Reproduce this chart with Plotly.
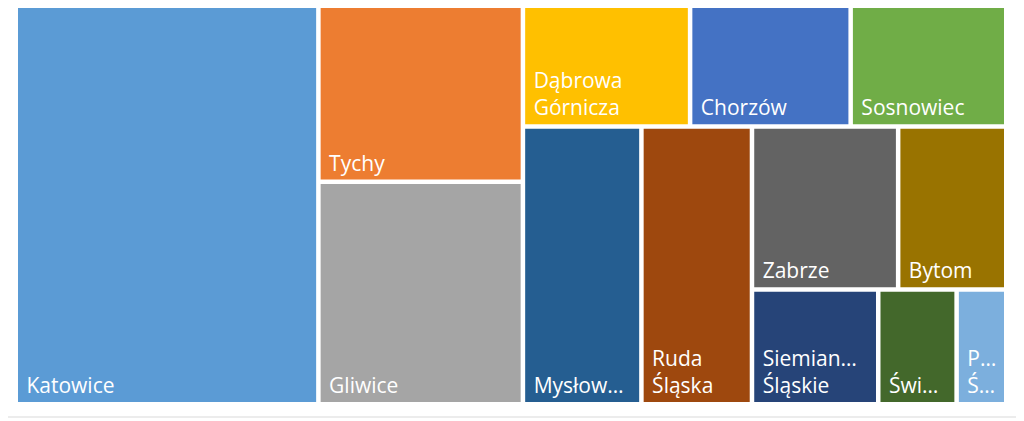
import plotly.graph_objects as go

# tile sizes (relative units, visible part of the chart)
cities = ["Katowice", "Tychy", "Gliwice", "Dąbrowa Górnicza", "Chorzów",
          "Sosnowiec", "Mysłowice", "Ruda Śląska", "Zabrze", "Bytom",
          "Siemianowice Śląskie", "Świętochłowice", "Piekary Śląskie"]
values = [1206, 360, 455, 202, 194, 188, 329, 307, 238, 176, 145, 90, 57]
# labels as they appear in the tiles (cut the same way)
tile_text = ["Katowice", "Tychy", "Gliwice", "Dąbrowa<br>Górnicza", "Chorzów",
             "Sosnowiec", "Mysłow…", "Ruda<br>Śląska", "Zabrze", "Bytom",
             "Siemian…<br>Śląskie", "Świ…", "P…<br>Ś…"]
colors = ["#5B9BD5", "#ED7D31", "#A5A5A5", "#FFC000", "#4472C4", "#70AD47",
          "#255E91", "#9E480E", "#636363", "#997300", "#264478", "#43682B",
          "#7CAFDD"]

# blank blocks so slice-dice gives the same split as the original chart
city_block = ["", "middle", "middle", "top row", "top row", "top row",
              "bottom row", "bottom row", "corner top", "corner top",
              "corner bottom", "corner bottom", "corner bottom"]
blocks = ["middle", "right", "top row", "bottom row", "corner",
          "corner top", "corner bottom"]
block_parent = ["", "", "right", "right", "bottom row", "corner", "corner"]

# small indent in front of every label line, like the original
shown = ["<br>".join("\u00a0" + ln for ln in t.split("<br>")) for t in tile_text]

ids = cities + blocks
parents = city_block + block_parent
vals = values + [0] * len(blocks)
texts = shown + [""] * len(blocks)
cols = colors + ["white"] * len(blocks)

fig = go.Figure(go.Treemap(
    ids=ids, labels=cities + [""] * len(blocks), parents=parents,
    values=vals, text=texts, textinfo="text",
    sort=False, branchvalues="remainder",
    tiling=dict(packing="slice-dice", pad=4.5),
    marker=dict(colors=cols, line=dict(width=0), depthfade=False,
                pad=dict(t=0, l=0, r=0, b=0)),
    pathbar=dict(visible=False),
    root=dict(color="white"),
    textposition="bottom left",
    textfont=dict(family="Open Sans", size=21, color="white"),
    hoverinfo="skip",
))

# thin chart frame (right and bottom edges)
fig.add_shape(type="path", xref="paper", yref="paper",
              path="M 1.0142 1.1 L 1.0142 -0.0381 L -0.03 -0.0381",
              line=dict(color="#d9d9d9", width=1))

# page body adds 8px around the div
fig.update_layout(width=1016, height=413, paper_bgcolor="white",
                  margin=dict(l=10, r=20, t=0, b=19), showlegend=False)

fig.write_html("out.html")
